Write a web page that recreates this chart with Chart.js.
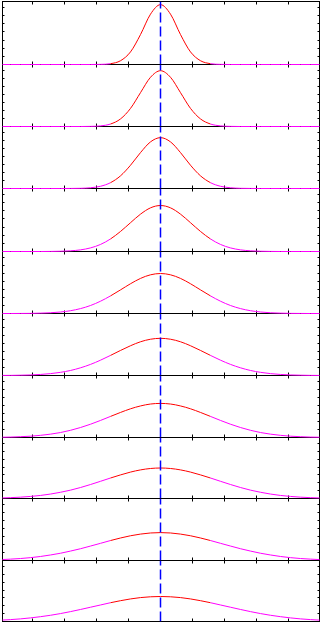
<!DOCTYPE html>
<html>
<head>
<meta charset="utf-8">
<script src="https://cdn.jsdelivr.net/npm/chart.js@4.4.1/dist/chart.umd.min.js"></script>
<style>
    html, body { margin: 0; padding: 0; background: #fff; }
    #wrap { position: relative; width: 321px; height: 624px; overflow: hidden; }
    #wrap canvas { position: absolute; left: 0; }
</style>
</head>
<body>
<div id="wrap"></div>
<script>
// x positions shared by every profile
const xPositions = [-160, -150, -140, -130, -120, -110, -100, -90, -80, -70, -60, -50, -40, -30, -20, -10,
    0, 10, 20, 30, 40, 50, 60, 70, 80, 90, 100, 110, 120, 130, 140, 150, 160];

// one profile per panel, top to bottom
const profile1 = [0, 0, 0, 0, 0, 0, 0, 0, 0, 0, 0.002, 0.013, 0.060, 0.200, 0.475, 0.799,
    0.95, 0.799, 0.475, 0.200, 0.060, 0.013, 0.002, 0, 0, 0, 0, 0, 0, 0, 0, 0, 0];
const profile2 = [0, 0, 0, 0, 0, 0, 0, 0, 0, 0.002, 0.010, 0.040, 0.122, 0.292, 0.546, 0.794,
    0.90, 0.794, 0.546, 0.292, 0.122, 0.040, 0.010, 0.002, 0, 0, 0, 0, 0, 0, 0, 0, 0];
const profile3 = [0, 0, 0, 0, 0, 0, 0, 0.001, 0.003, 0.012, 0.036, 0.094, 0.204, 0.375, 0.579, 0.752,
    0.82, 0.752, 0.579, 0.375, 0.204, 0.094, 0.036, 0.012, 0.003, 0.001, 0, 0, 0, 0, 0, 0, 0];
const profile4 = [0, 0, 0, 0, 0, 0.001, 0.004, 0.011, 0.026, 0.057, 0.112, 0.199, 0.318, 0.457, 0.593, 0.693,
    0.73, 0.693, 0.593, 0.457, 0.318, 0.199, 0.112, 0.057, 0.026, 0.011, 0.004, 0.001, 0, 0, 0, 0, 0];
const profile5 = [0, 0, 0.001, 0.002, 0.006, 0.012, 0.024, 0.045, 0.079, 0.129, 0.198, 0.284, 0.381, 0.480, 0.566, 0.624,
    0.645, 0.624, 0.566, 0.480, 0.381, 0.284, 0.198, 0.129, 0.079, 0.045, 0.024, 0.012, 0.006, 0.002, 0.001, 0, 0];
const profile6 = [0.001, 0.002, 0.005, 0.009, 0.017, 0.030, 0.051, 0.081, 0.124, 0.179, 0.247, 0.324, 0.404, 0.480, 0.544, 0.585,
    0.60, 0.585, 0.544, 0.480, 0.404, 0.324, 0.247, 0.179, 0.124, 0.081, 0.051, 0.030, 0.017, 0.009, 0.005, 0.002, 0.001];
const profile7 = [0.004, 0.007, 0.013, 0.021, 0.035, 0.054, 0.080, 0.116, 0.161, 0.214, 0.275, 0.340, 0.404, 0.463, 0.509, 0.540,
    0.55, 0.540, 0.509, 0.463, 0.404, 0.340, 0.275, 0.214, 0.161, 0.116, 0.080, 0.054, 0.035, 0.021, 0.013, 0.007, 0.004];
const profile8 = [0.008, 0.014, 0.022, 0.034, 0.050, 0.073, 0.102, 0.137, 0.180, 0.229, 0.282, 0.336, 0.387, 0.433, 0.469, 0.492,
    0.50, 0.492, 0.469, 0.433, 0.387, 0.336, 0.282, 0.229, 0.180, 0.137, 0.102, 0.073, 0.050, 0.034, 0.022, 0.014, 0.008];
const profile9 = [0.014, 0.022, 0.032, 0.046, 0.065, 0.089, 0.117, 0.152, 0.190, 0.233, 0.277, 0.322, 0.363, 0.399, 0.426, 0.444,
    0.45, 0.444, 0.426, 0.399, 0.363, 0.322, 0.277, 0.233, 0.190, 0.152, 0.117, 0.089, 0.065, 0.046, 0.032, 0.022, 0.014];
const profile10 = [0.022, 0.031, 0.043, 0.059, 0.079, 0.102, 0.130, 0.162, 0.197, 0.234, 0.271, 0.308, 0.341, 0.370, 0.392, 0.405,
    0.41, 0.405, 0.392, 0.370, 0.341, 0.308, 0.271, 0.234, 0.197, 0.162, 0.130, 0.102, 0.079, 0.059, 0.043, 0.031, 0.022];

const profiles = [profile1, profile2, profile3, profile4, profile5, profile6, profile7, profile8, profile9, profile10];

const centerX = 0;          // dashed marker
const redHalfWidth = 50;    // curve is red inside |x| <= 50
const xTicks = [-128, -96, -64, -32, 0, 32, 64, 96, 128];
const yTicks = [0.129, 0.258, 0.387, 0.516, 0.645, 0.774, 0.903];

// pixel rows of each panel's bottom axis (layout only)
const panelBottoms = [64, 126, 188, 251, 313, 375, 437, 498, 560, 621];
const firstTop = 1;

const RED = '#ff0000';
const MAGENTA = '#ff00ff';
const BLUE = '#0000ff';

const framePlugin = {
    id: 'frame',
    beforeDatasetsDraw(chart) {
        const { ctx, chartArea: a, scales } = chart;
        ctx.save();
        ctx.strokeStyle = '#000';
        ctx.lineWidth = 1;
        ctx.strokeRect(a.left, a.top, a.right - a.left, a.bottom - a.top);
        ctx.beginPath();
        xTicks.forEach((v) => {
            const px = Math.round(scales.x.getPixelForValue(v) - 0.5) + 0.5;
            ctx.moveTo(px, a.bottom);
            ctx.lineTo(px, a.bottom - 3);
            ctx.moveTo(px, a.top);
            ctx.lineTo(px, a.top + 3);
        });
        yTicks.forEach((v) => {
            const py = Math.round(scales.y.getPixelForValue(v) - 0.5) + 0.5;
            ctx.moveTo(a.left, py);
            ctx.lineTo(a.left + 2, py);
            ctx.moveTo(a.right, py);
            ctx.lineTo(a.right - 2, py);
        });
        ctx.stroke();
        ctx.restore();
    },
};

const wrap = document.getElementById('wrap');

profiles.forEach((profile, i) => {
    const top = i === 0 ? firstTop : panelBottoms[i - 1];
    const bottom = panelBottoms[i];
    const h = bottom - top + 3;

    const canvas = document.createElement('canvas');
    canvas.width = 321;
    canvas.height = h;
    canvas.style.width = '321px';
    canvas.style.height = h + 'px';
    canvas.style.top = (top - 1) + 'px';
    // upper panels sit above the next panel's top border so their tails stay visible
    canvas.style.zIndex = String(20 - i);
    wrap.appendChild(canvas);

    new Chart(canvas, {
        type: 'line',
        data: {
            datasets: [
                {
                    data: [{ x: centerX, y: 0 }, { x: centerX, y: 1 }],
                    borderColor: BLUE,
                    borderWidth: 1.5,
                    borderDash: [10, 4],
                    pointRadius: 0,
                    order: 0,
                },
                {
                    data: xPositions.map((x, k) => ({ x, y: profile[k] })),
                    borderColor: RED,
                    borderWidth: 1,
                    pointRadius: 0,
                    cubicInterpolationMode: 'monotone',
                    clip: { left: 0, right: 0, top: 1, bottom: 1 },
                    order: 1,
                    segment: {
                        borderColor: (c) =>
                            Math.abs(c.p0.parsed.x) <= redHalfWidth && Math.abs(c.p1.parsed.x) <= redHalfWidth
                                ? RED : MAGENTA,
                    },
                },
            ],
        },
        options: {
            responsive: false,
            animation: false,
            events: [],
            layout: { padding: { top: 1.5, bottom: 1.5, left: 2.5, right: 1.5 } },
            plugins: { legend: { display: false }, tooltip: { enabled: false } },
            scales: {
                x: { type: 'linear', min: -158, max: 159, display: false },
                y: { type: 'linear', min: 0, max: 1, display: false },
            },
        },
        plugins: [framePlugin],
    });
});
</script>
</body>
</html>
